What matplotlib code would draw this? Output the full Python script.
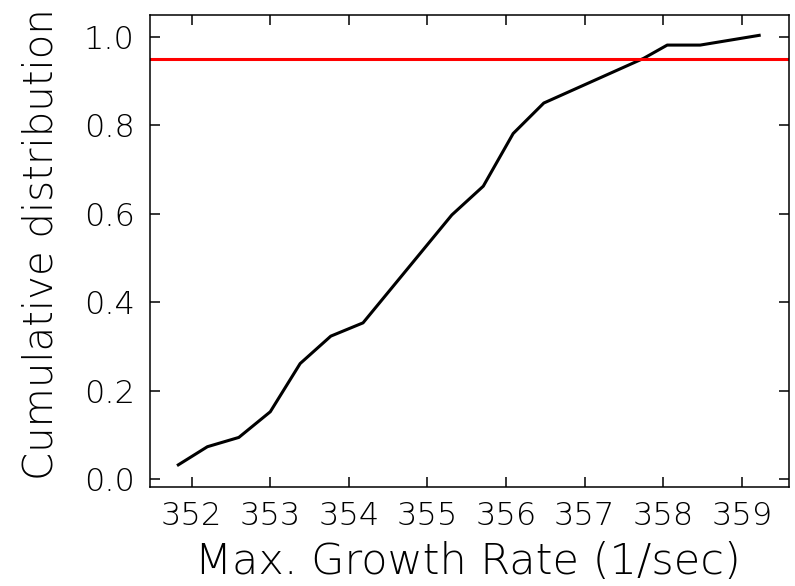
import matplotlib
matplotlib.use('Agg')
import matplotlib.pyplot as plt

# Wartości
growth_rate = [351.83, 352.20, 352.60, 353.00, 353.38, 353.77, 354.18,
               355.31, 355.71, 356.09, 356.48, 357.75, 358.05, 358.47, 359.22]
cum_dist = [0.032, 0.073, 0.094, 0.152, 0.261, 0.323, 0.353,
            0.597, 0.662, 0.781, 0.850, 0.951, 0.981, 0.981, 1.003]
threshold = 0.95
x_ticks = [352, 353, 354, 355, 356, 357, 358, 359]
y_ticks = [0.0, 0.2, 0.4, 0.6, 0.8, 1.0]

plt.rcParams['font.family'] = 'DejaVu Sans'
plt.rcParams['font.weight'] = 'light'

fig = plt.figure(figsize=(7.95, 5.86), dpi=100)
ax = fig.add_axes([0.1887, 0.169, 0.8038, 0.8054])

ax.plot(growth_rate, cum_dist, color='black', linewidth=2.2)
ax.axhline(threshold, color='red', linewidth=2.2)

ax.set_xlim(351.47, 359.60)
ax.set_ylim(-0.018, 1.049)
ax.set_xticks(x_ticks)
ax.set_yticks(y_ticks)
ax.set_xticklabels([str(t) for t in x_ticks], fontweight='light')
ax.set_yticklabels(['%.1f' % t for t in y_ticks], fontweight='light')

ax.tick_params(direction='in', length=7, width=1.1, top=True, right=True,
               labelsize=23, colors='black')
ax.tick_params(axis='x', pad=10)
ax.tick_params(axis='y', pad=11)
for s in ax.spines.values():
    s.set_linewidth(1.1)

ax.set_xlabel('Max. Growth Rate (1/sec)', fontsize=31, fontweight='light')
ax.set_ylabel('Cumulative distribution', fontsize=29, fontweight='light')
ax.xaxis.set_label_coords(0.498, -0.115)
ax.yaxis.set_label_coords(-0.14, 0.514)

fig.savefig('out.png', dpi=100)
